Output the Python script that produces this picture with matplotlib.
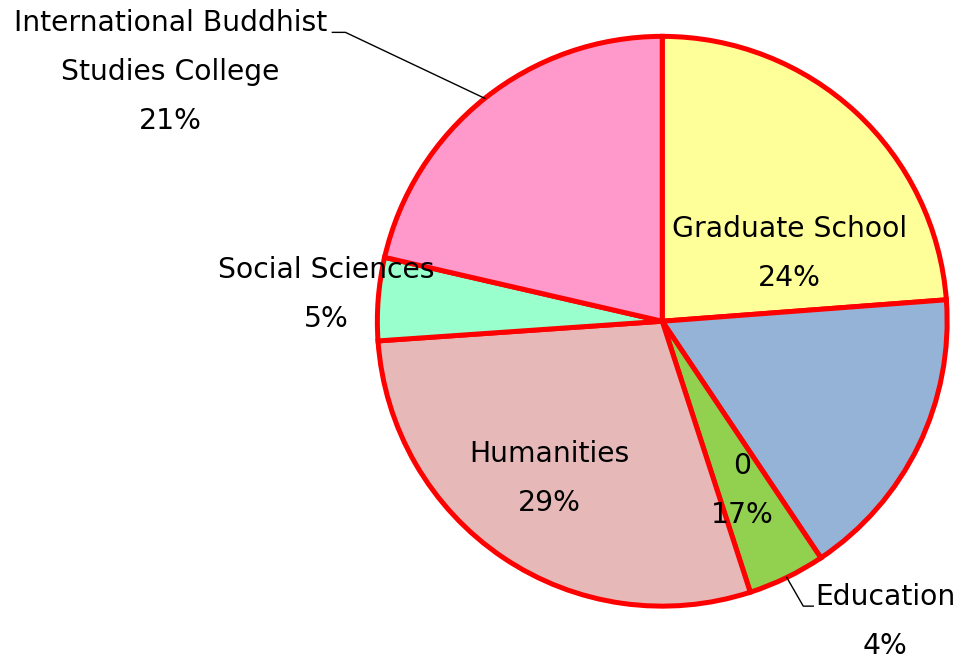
import numpy as np
import matplotlib
matplotlib.use("Agg")
import matplotlib.pyplot as plt

# slice data, clockwise from 12 o'clock
names = ["Graduate School", "0", "Education", "Humanities",
         "Social Sciences", "International Buddhist\nStudies College"]
shares = [23.8, 16.8, 4.4, 28.9, 4.7, 21.4]
colors = ["#FFFF99", "#95B3D7", "#92D050", "#E6B9B8", "#99FFCC", "#FF99CC"]

# label block centres (axes data units, radius = 1)
label_pos = [(0.446, 0.239), (0.281, -0.593), (0.782, -1.053),
             (-0.396, -0.551), (-1.179, 0.095), (-1.726, 0.874)]

fig = plt.figure(figsize=(9.57, 6.61), dpi=100)
ax = fig.add_axes([0.394, 0.083, 0.596, 0.862])

wedges, _ = ax.pie(shares, colors=colors, startangle=90, counterclock=False,
                   radius=1.0,
                   wedgeprops=dict(edgecolor="#FF0000", linewidth=3.6))
ax.set_xlim(-1, 1)
ax.set_ylim(-1, 1)
ax.set_aspect("equal")
ax.axis("off")

total = sum(shares)
for name, val, (lx, ly) in zip(names, shares, label_pos):
    pct = round(val / total * 100)
    ax.text(lx, ly, f"{name}\n{pct}%", ha="center", va="center",
            fontsize=20.3, linespacing=1.95, clip_on=False)

# leader lines for outside labels
def edge_point(w):
    ang = np.deg2rad((w.theta1 + w.theta2) / 2)
    return np.cos(ang), np.sin(ang)

ex, ey = edge_point(wedges[5])
ax.plot([-1.158, -1.112, ex], [1.014, 1.014, ey], color="black", lw=1,
        clip_on=False)
ex, ey = edge_point(wedges[2])
ax.plot([ex, 0.495, 0.530], [ey, -1.0, -1.0], color="black", lw=1,
        clip_on=False)

fig.savefig("out.png", dpi=100)
